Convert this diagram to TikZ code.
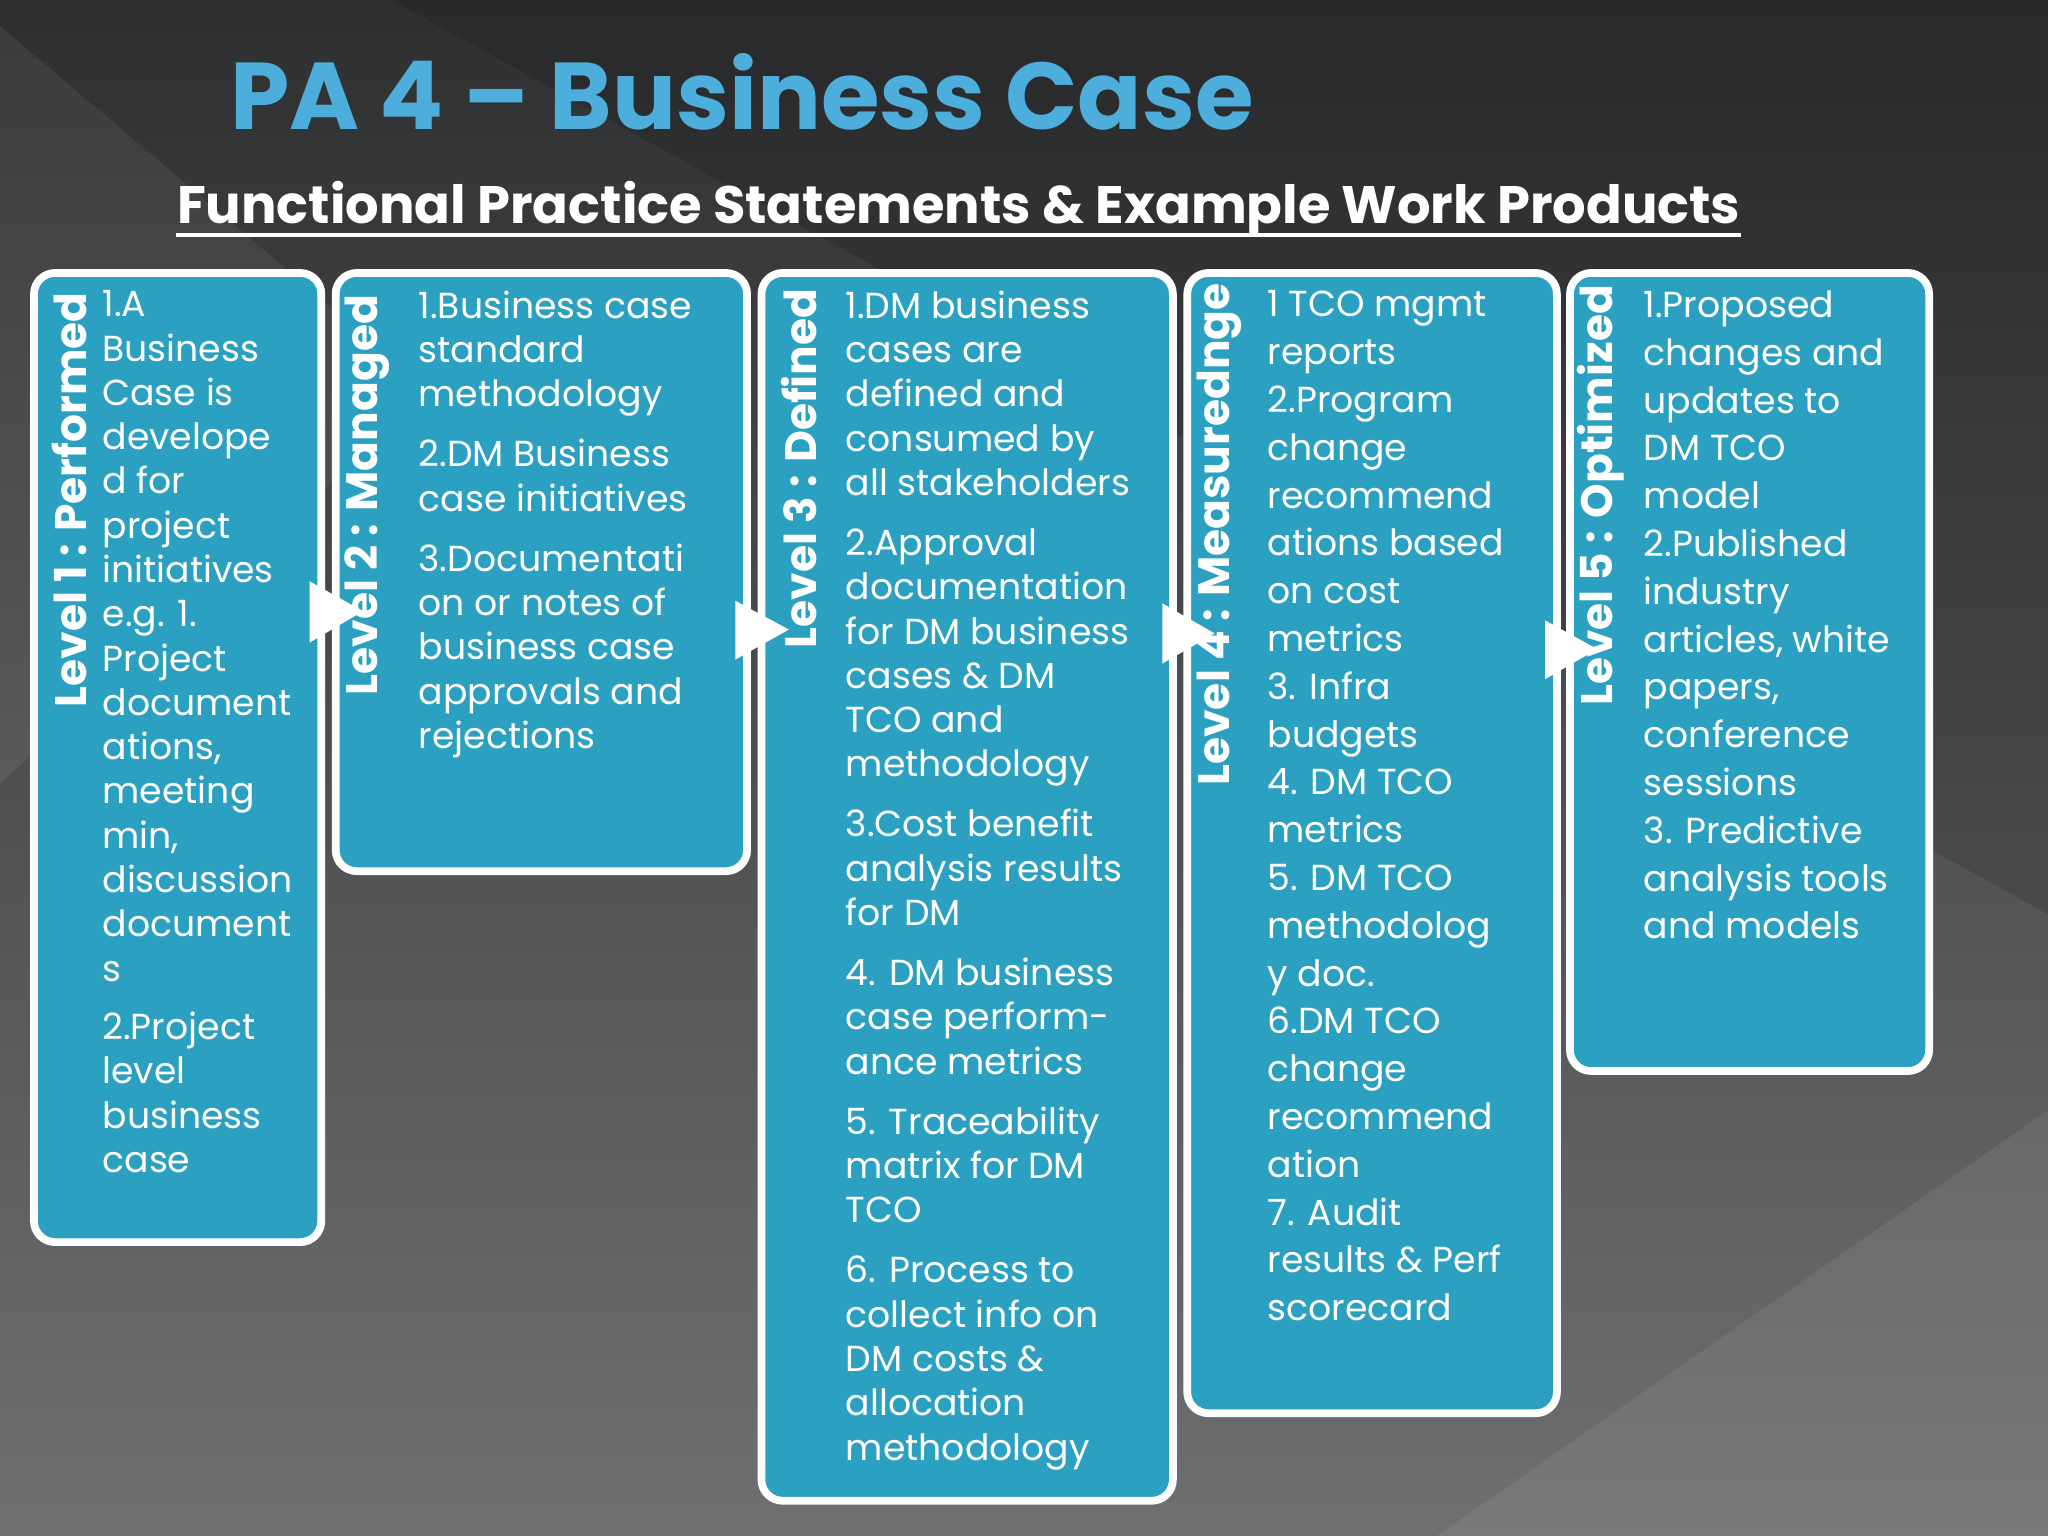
\documentclass[tikz,border=0pt]{standalone}
\usepackage{fontspec}
\setmainfont{Poppins}
\usetikzlibrary{calc}
\definecolor{boxc}{HTML}{2BA0C0}
\definecolor{titc}{HTML}{4DAEDB}
\definecolor{bgA}{HTML}{2E2F31}
\definecolor{bgB}{HTML}{6E6F70}
\tikzset{
 lvbox/.style={draw=white,line width=2.2pt,rounded corners=6pt,fill=boxc},
 lvtext/.style={anchor=north west,align=left,text=white,font=\fontsize{10.3}{12.6}\selectfont,inner sep=0pt},
 lvlabel/.style={rotate=90,anchor=south west,text=white,font=\bfseries\fontsize{12.5}{14}\selectfont,inner sep=0pt},
 tri/.style={fill=white,draw=none}
}
\begin{document}
\begin{tikzpicture}[x=0.013061cm,y=-0.013061cm]
\useasboundingbox (0,0) rectangle (1568,1176);
\shade[top color=bgA,bottom color=bgB] (0,0) rectangle (1568,1176);
\fill[white,opacity=0.06] (0,20) -- (330,300) -- (0,600) -- cycle;
\fill[black,opacity=0.12] (300,0) -- (1568,0) -- (1568,700) -- cycle;
\fill[white,opacity=0.07] (1100,1176) -- (1568,850) -- (1568,1176) -- cycle;
\node[text=titc,font=\bfseries\fontsize{27}{30}\selectfont,anchor=center] (title) at (568,70) {PA 4 – Business Case};
\node[text=white,font=\bfseries\fontsize{15}{18}\selectfont,anchor=center] (sub) at (734,160) {Functional Practice Statements \& Example Work Products};
\draw[white,line width=1.3pt] (135,180) -- (1333,180);
% boxes
\draw[lvbox] (26,209) rectangle (246,951);
\draw[lvbox] (257,209) rectangle (572,667);
\draw[lvbox] (583,209) rectangle (898,1149);
\draw[lvbox] (909,209) rectangle (1192,1082);
\draw[lvbox] (1202,209) rectangle (1477,820);
% labels
\node[lvlabel] (l1) at (67,542) {Level 1 : Performed};
\node[lvlabel] (l2) at (299,533) {Level 2 : Managed};
\node[lvlabel] (l3) at (626,497) {Level 3 : Defined};
\node[lvlabel] (l4) at (951,602) {Level 4 : Measurednge};
\node[lvlabel] (l5) at (1244,541) {Level 5 : Optimized};
% arrows
\fill[tri] (237,445) -- (278,468) -- (237,492) -- cycle;
\fill[tri] (563,460) -- (604,482) -- (563,505) -- cycle;
\fill[tri] (890,462) -- (930,485) -- (890,508) -- cycle;
\fill[tri] (1183,475) -- (1223,497) -- (1183,520) -- cycle;
% texts
\node[lvtext] (t1) at (78,222) {1.A\\Business\\Case is\\develope\\d for\\project\\initiatives\\e.g. 1.\\Project\\document\\ations,\\meeting\\min,\\discussion\\document\\s\\[4pt]2.Project\\level\\business\\case};
\node[lvtext] (t2) at (320,222) {1.Business case\\standard\\methodology\\[4.5pt]2.DM Business\\case initiatives\\[4.5pt]3.Documentati\\on or notes of\\business case\\approvals and\\rejections};
\node[lvtext] (t3) at (647,222) {1.DM business\\cases are\\defined and\\consumed by\\all stakeholders\\[4.5pt]2.Approval\\documentation\\for DM business\\cases \& DM\\TCO and\\methodology\\[4.5pt]3.Cost benefit\\analysis results\\for DM\\[4.5pt]4. DM business\\case perform-\\ance metrics\\[4.5pt]5. Traceability\\matrix for DM\\TCO\\[4.5pt]6. Process to\\collect info on\\DM costs \&\\allocation\\methodology};
\node[lvtext,font=\fontsize{10.3}{13.6}\selectfont] (t4) at (970,222) {1 TCO mgmt\\reports\\2.Program\\change\\recommend\\ations based\\on cost\\metrics\\3. Infra\\budgets\\4. DM TCO\\metrics\\5. DM TCO\\methodolog\\y doc.\\6.DM TCO\\change\\recommend\\ation\\7. Audit\\results \& Perf\\scorecard};
\node[lvtext,font=\fontsize{10.3}{13.6}\selectfont] (t5) at (1258,222) {1.Proposed\\changes and\\updates to\\DM TCO\\model\\2.Published\\industry\\articles, white\\papers,\\conference\\sessions\\3. Predictive\\analysis tools\\and models};
\end{tikzpicture}
\end{document}
